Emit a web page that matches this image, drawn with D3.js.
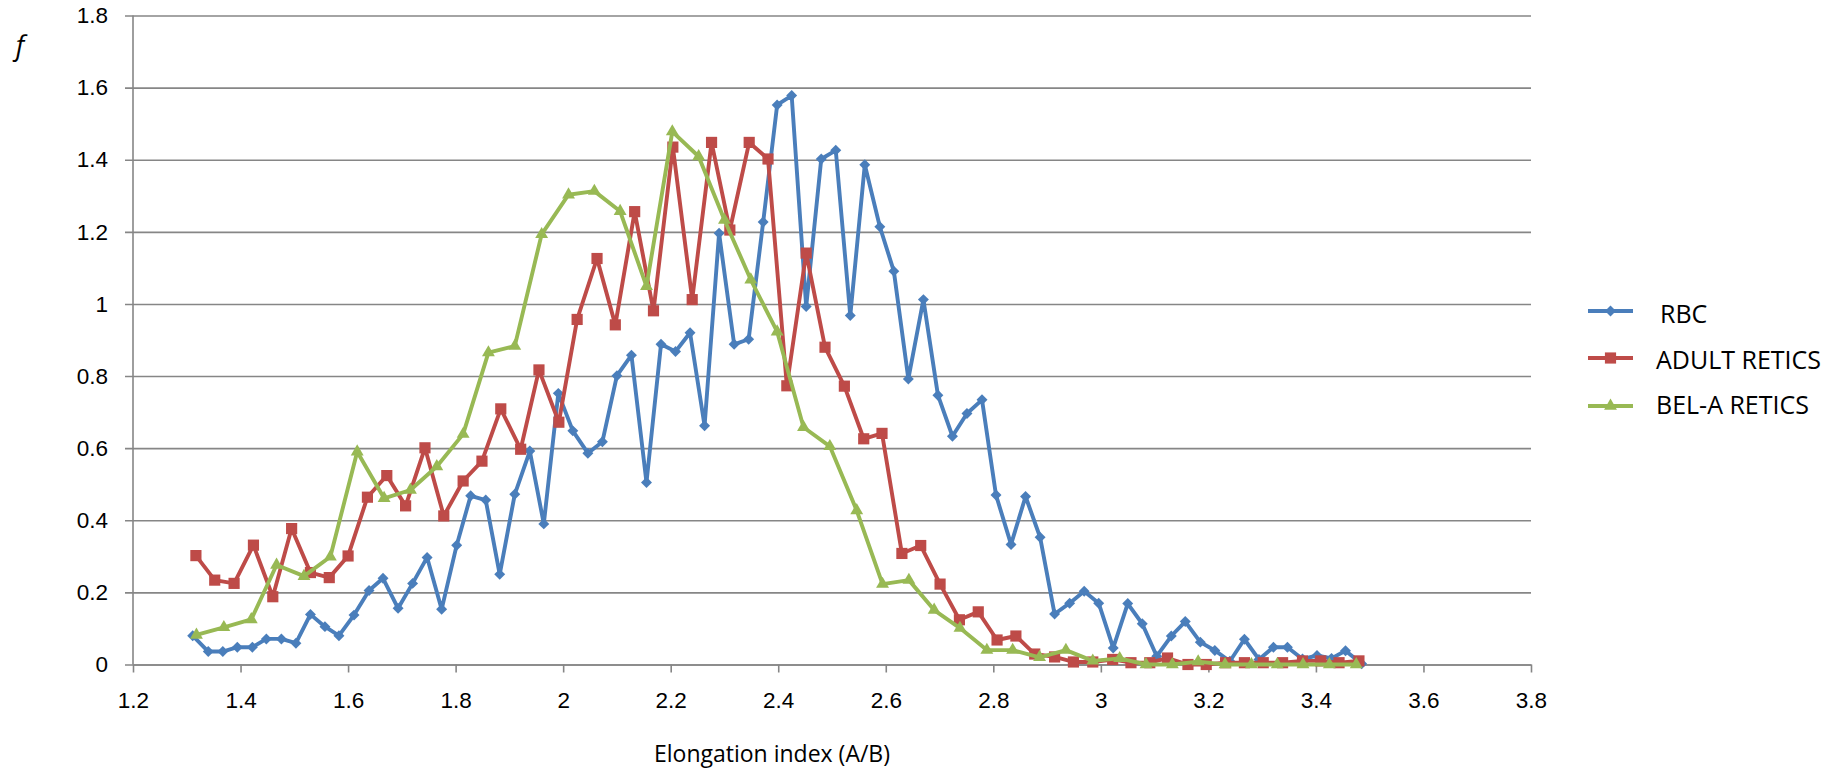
<!DOCTYPE html>
<html>
<head>
<meta charset="utf-8">
<script src="https://cdn.jsdelivr.net/npm/d3@7"></script>
<style>
  body { margin: 0; background: #ffffff; }
  svg { display: block; font-family: "Open Sans", sans-serif; }
</style>
</head>
<body>
<svg id="CHART" width="1839" height="769"></svg>
<script>
// Tick values on both axes
var xTicks = [1.2, 1.4, 1.6, 1.8, 2, 2.2, 2.4, 2.6, 2.8, 3, 3.2, 3.4, 3.6, 3.8];
var yTicks = [0, 0.2, 0.4, 0.6, 0.8, 1, 1.2, 1.4, 1.6, 1.8];

var seriesNames = ["RBC", "ADULT RETICS", "BEL-A RETICS"];

// RBC
var rbcX = [1.311, 1.340, 1.367, 1.394, 1.422, 1.448, 1.476, 1.503, 1.530, 1.557,
  1.583, 1.611, 1.639, 1.665, 1.693, 1.720, 1.747, 1.774, 1.802, 1.828,
  1.856, 1.882, 1.910, 1.938, 1.964, 1.991, 2.018, 2.046, 2.073, 2.100,
  2.127, 2.155, 2.182, 2.209, 2.236, 2.263, 2.290, 2.318, 2.345, 2.372,
  2.398, 2.425, 2.452, 2.480, 2.507, 2.534, 2.561, 2.589, 2.615, 2.642,
  2.670, 2.697, 2.724, 2.751, 2.779, 2.805, 2.833, 2.860, 2.887, 2.914,
  2.942, 2.969, 2.996, 3.023, 3.050, 3.077, 3.104, 3.131, 3.157, 3.185,
  3.212, 3.240, 3.267, 3.294, 3.321, 3.347, 3.375, 3.402, 3.429, 3.455, 3.485];
var rbcY = [0.080, 0.036, 0.036, 0.048, 0.048, 0.071, 0.071, 0.059, 0.139, 0.105,
  0.080, 0.137, 0.205, 0.239, 0.156, 0.225, 0.297, 0.153, 0.331, 0.468,
  0.456, 0.250, 0.472, 0.592, 0.390, 0.752, 0.648, 0.586, 0.618, 0.801,
  0.858, 0.505, 0.888, 0.868, 0.920, 0.662, 1.196, 0.888, 0.902, 1.227,
  1.552, 1.578, 0.993, 1.402, 1.426, 0.968, 1.386, 1.214, 1.091, 0.792,
  1.012, 0.747, 0.633, 0.696, 0.734, 0.470, 0.333, 0.466, 0.353, 0.140,
  0.170, 0.203, 0.170, 0.046, 0.169, 0.113, 0.023, 0.079, 0.119, 0.062,
  0.039, 0.009, 0.070, 0.014, 0.048, 0.048, 0.015, 0.025, 0.017, 0.038, 0.002];

// ADULT RETICS
var adultX = [1.317, 1.352, 1.388, 1.424, 1.460, 1.495, 1.530, 1.565, 1.600, 1.636,
  1.672, 1.707, 1.743, 1.778, 1.814, 1.849, 1.884, 1.921, 1.955, 1.992,
  2.026, 2.063, 2.097, 2.133, 2.168, 2.204, 2.240, 2.276, 2.310, 2.346,
  2.381, 2.416, 2.452, 2.487, 2.523, 2.559, 2.593, 2.630, 2.665, 2.701,
  2.737, 2.772, 2.807, 2.842, 2.877, 2.914, 2.949, 2.985, 3.022, 3.056,
  3.091, 3.124, 3.162, 3.196, 3.232, 3.267, 3.302, 3.338, 3.375, 3.409,
  3.443, 3.480];
var adultY = [0.302, 0.234, 0.225, 0.331, 0.188, 0.377, 0.255, 0.241, 0.301, 0.464,
  0.524, 0.440, 0.601, 0.412, 0.509, 0.564, 0.709, 0.597, 0.817, 0.672,
  0.957, 1.126, 0.942, 1.256, 0.981, 1.435, 1.012, 1.448, 1.205, 1.448,
  1.402, 0.773, 1.141, 0.880, 0.772, 0.626, 0.641, 0.308, 0.330, 0.223,
  0.124, 0.146, 0.068, 0.079, 0.029, 0.021, 0.007, 0.007, 0.014, 0.005,
  0.005, 0.018, 0.000, 0.000, 0.005, 0.005, 0.005, 0.005, 0.010, 0.010,
  0.005, 0.010];

// BEL-A RETICS
var belaX = [1.318, 1.369, 1.420, 1.467, 1.518, 1.567, 1.617, 1.667, 1.716, 1.765,
  1.814, 1.861, 1.910, 1.960, 2.010, 2.058, 2.106, 2.155, 2.203, 2.252,
  2.300, 2.349, 2.398, 2.447, 2.496, 2.546, 2.594, 2.643, 2.690, 2.738,
  2.788, 2.836, 2.886, 2.935, 2.985, 3.035, 3.084, 3.133, 3.181, 3.231,
  3.280, 3.328, 3.376, 3.425, 3.475];
var belaY = [0.082, 0.103, 0.125, 0.276, 0.245, 0.299, 0.590, 0.461, 0.484, 0.549,
  0.639, 0.865, 0.883, 1.193, 1.303, 1.313, 1.257, 1.049, 1.478, 1.409,
  1.233, 1.067, 0.923, 0.658, 0.605, 0.427, 0.223, 0.234, 0.151, 0.101,
  0.040, 0.040, 0.020, 0.040, 0.010, 0.017, 0.000, 0.000, 0.008, 0.000,
  0.000, 0.000, 0.000, 0.000, 0.000];

var colors = ["#4a7ebb", "#be4b48", "#98b954"];
var gridColor = "#868686";

let svg = d3.select("#CHART");

// Plot area
const PLOT = { LEFT: 133, RIGHT: 1531, TOP: 15.5, BOTTOM: 664.5 };

let xScale = d3.scaleLinear().domain([1.2, 3.8]).range([PLOT.LEFT, PLOT.RIGHT]);
let yScale = d3.scaleLinear().domain([0, 1.8]).range([PLOT.BOTTOM, PLOT.TOP]);

let fmt = (d) => String(+d.toFixed(1));

// Horizontal gridlines + y axis
let yAxis = d3.axisLeft(yScale)
  .tickValues(yTicks)
  .tickFormat(fmt)
  .tickSize(-(PLOT.RIGHT - PLOT.LEFT))
  .tickPadding(0)
  .tickSizeOuter(0);

let yG = svg.append("g")
  .attr("class", "yAxis")
  .attr("transform", `translate(${PLOT.LEFT},0)`)
  .call(yAxis);
yG.select(".domain").remove();
yG.selectAll(".tick line")
  .attr("x1", -8)
  .style("stroke", gridColor)
  .style("stroke-width", 1.6);
yG.selectAll("text")
  .attr("x", -25)
  .style("font-size", "22.5px")
  .style("fill", "#000");

// left axis line
svg.append("line")
  .attr("x1", PLOT.LEFT).attr("x2", PLOT.LEFT)
  .attr("y1", PLOT.TOP).attr("y2", PLOT.BOTTOM)
  .style("stroke", gridColor)
  .style("stroke-width", 1.6);

// x axis
let xAxis = d3.axisBottom(xScale)
  .tickValues(xTicks)
  .tickFormat(fmt)
  .tickSize(8)
  .tickPadding(20)
  .tickSizeOuter(0);

let xG = svg.append("g")
  .attr("class", "xAxis")
  .attr("transform", `translate(0,${PLOT.BOTTOM})`)
  .call(xAxis);
xG.select(".domain").style("stroke", gridColor).style("stroke-width", 1.6);
xG.selectAll(".tick line").style("stroke", gridColor).style("stroke-width", 1.6);
xG.selectAll("text")
  .style("font-size", "22.5px")
  .style("fill", "#000");

// Axis titles
svg.append("text")
  .attr("x", 772)
  .attr("y", 762)
  .style("text-anchor", "middle")
  .style("font-size", "23px")
  .text("Elongation index (A/B)");

svg.append("text")
  .attr("x", 20)
  .attr("y", 55)
  .style("text-anchor", "middle")
  .style("font-size", "27px")
  .style("font-style", "italic")
  .text("f");

// Marker shapes (diamond = rotated square)
let symbols = [
  { type: d3.symbolSquare, size: 60, rotate: 45 },
  { type: d3.symbolSquare, size: 125, rotate: 0 },
  { type: d3.symbolTriangle, size: 72, rotate: 0 },
];

let allSeries = [
  d3.zip(rbcX, rbcY),
  d3.zip(adultX, adultY),
  d3.zip(belaX, belaY),
];

let line = d3.line()
  .x((d) => xScale(d[0]))
  .y((d) => yScale(d[1]));

// Draw each series: line then markers
allSeries.forEach(function (data, i) {
  let g = svg.append("g").attr("class", "series" + i);
  g.append("path")
    .datum(data)
    .attr("d", line)
    .style("fill", "none")
    .style("stroke", colors[i])
    .style("stroke-width", 3.9)
    .style("stroke-linejoin", "round");

  let sym = d3.symbol().type(symbols[i].type).size(symbols[i].size);
  g.selectAll("path.mark")
    .data(data)
    .enter()
    .append("path")
    .attr("class", "mark")
    .attr("d", sym)
    .attr("transform", (d) => `translate(${xScale(d[0])},${yScale(d[1])}) rotate(${symbols[i].rotate})`)
    .style("fill", colors[i]);
});

// Legend
let legendY = [311, 358, 406];
let legendTextY = [314, 360, 405];
seriesNames.forEach(function (name, i) {
  let lg = svg.append("g");
  lg.append("line")
    .attr("x1", 1588).attr("x2", 1633)
    .attr("y1", legendY[i]).attr("y2", legendY[i])
    .style("stroke", colors[i])
    .style("stroke-width", 3.9);
  lg.append("path")
    .attr("d", d3.symbol().type(symbols[i].type).size(symbols[i].size)())
    .attr("transform", `translate(1610.5,${legendY[i]}) rotate(${symbols[i].rotate})`)
    .style("fill", colors[i]);
  lg.append("text")
    .attr("x", i == 0 ? 1660 : 1656)
    .attr("y", legendTextY[i])
    .attr("dy", "0.36em")
    .style("font-size", "25px")
    .text(name);
});
</script>
</body>
</html>
